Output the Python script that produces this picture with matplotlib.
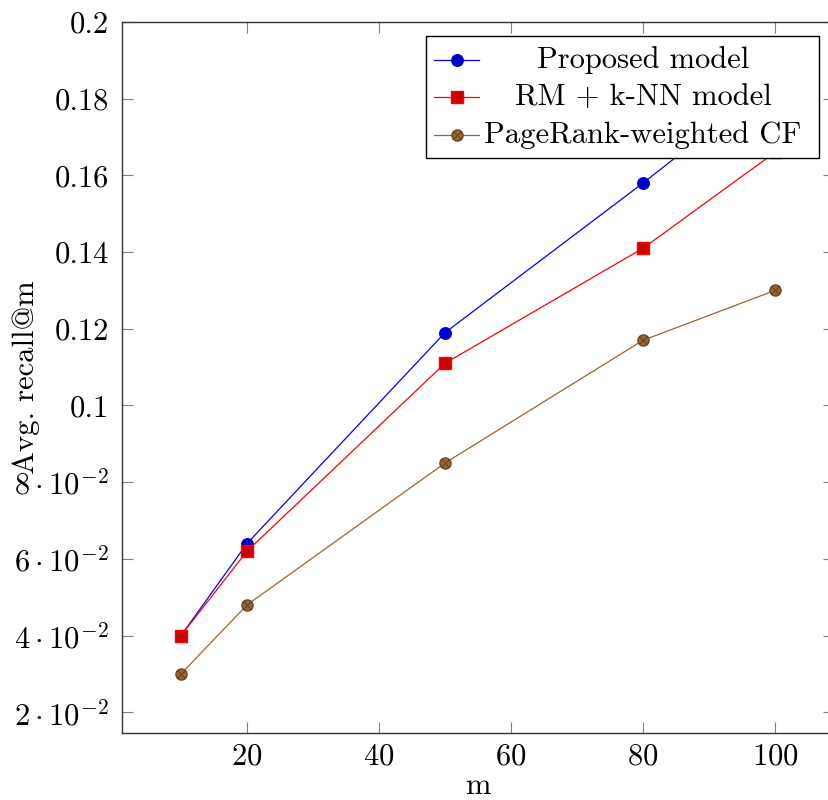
import numpy as np
import matplotlib.pyplot as plt
from matplotlib.patches import Rectangle
from matplotlib.lines import Line2D

plt.rcParams['font.family'] = 'serif'
plt.rcParams['font.serif'] = ['cmr10']
plt.rcParams['mathtext.fontset'] = 'cm'
plt.rcParams['axes.formatter.use_mathtext'] = True

m = [10, 20, 50, 80, 100]
proposed = [0.040, 0.064, 0.119, 0.158, 0.185]
rm_knn = [0.040, 0.062, 0.111, 0.141, 0.166]
pagerank = [0.030, 0.048, 0.085, 0.117, 0.130]

names = ["Proposed model", "RM + k-NN model", "PageRank-weighted CF"]
xticks = [20, 40, 60, 80, 100]
yticks = [0.02, 0.04, 0.06, 0.08, 0.1, 0.12, 0.14, 0.16, 0.18, 0.2]
ylabels = [r"$2\cdot10^{-2}$", r"$4\cdot10^{-2}$", r"$6\cdot10^{-2}$", r"$8\cdot10^{-2}$",
           "0.1", "0.12", "0.14", "0.16", "0.18", "0.2"]

FS = 22
W, H = 829, 800
fig = plt.figure(figsize=(W / 100, H / 100), dpi=100)
ax = fig.add_axes([121.6 / W, 1 - 733 / H, 712.8 / W, 711 / H])

brown = '#996633'
ax.plot(m, proposed, color='blue', lw=0.9, marker='o', ms=8.3, mfc='#0000cc', mec='#0000cc')
ax.plot(m, rm_knn, color='red', lw=0.9, marker='s', ms=8.2, mfc='#cc0000', mec='red')
ax.plot(m, pagerank, color=brown, lw=0.9, marker='o', ms=8, mfc=brown, mec='#6b4524')
ax.plot(m, pagerank, ls='none', marker='x', ms=5.5, mew=0.6, color='#5a3a1a')

ax.set_xlim(1, 109)
ax.set_ylim(0.0146, 0.2)
ax.set_xticks(xticks)
ax.set_yticks(yticks, ylabels)
ax.tick_params(direction='in', length=8, width=0.8, color='gray',
               top=True, right=True, labelsize=FS)
ax.tick_params(axis='y', pad=9)
ax.tick_params(axis='x', pad=7)
for s in ax.spines.values():
    s.set_linewidth(1.0)
    s.set_color('#333333')

ax.set_xlabel("m", fontsize=FS, va='center')
ax.xaxis.set_label_coords(0.5, (733 - 786) / 711)
ax.set_ylabel("Avg. recall@m", fontsize=FS, va='center')
ax.yaxis.set_label_coords((26 - 121.6) / 712.8, 0.5)


# legend drawn by hand so the text sits centred like pgfplots
def px(x, y):
    return x / W, 1 - y / H


x0, y0 = px(425.7, 158)
x1, y1 = px(819, 35.7)
ax.add_patch(Rectangle((x0, y0), x1 - x0, y1 - y0, transform=fig.transFigure,
                       facecolor='white', edgecolor='black', lw=1.0,
                       zorder=10, clip_on=False))
rows = [60, 97, 135]
handles = [
    dict(color='blue', marker='o', ms=8.3, mfc='#0000cc', mec='#0000cc'),
    dict(color='red', marker='s', ms=8.2, mfc='#cc0000', mec='red'),
    dict(color=brown, marker='o', ms=8, mfc=brown, mec='#6b4524'),
]
for yy, name, h in zip(rows, names, handles):
    xa, ya = px(434, yy)
    xb, _ = px(479, yy)
    ax.add_line(Line2D([xa, xb], [ya, ya], lw=0.9, transform=fig.transFigure,
                       zorder=11, clip_on=False, color=h['color']))
    xm, _ = px(456.5, yy)
    ax.add_line(Line2D([xm], [ya], ls='none', transform=fig.transFigure, zorder=12,
                       clip_on=False, marker=h['marker'], ms=h['ms'],
                       mfc=h['mfc'], mec=h['mec']))
    xt, _ = px(643, yy)
    fig.text(xt, ya, name, fontsize=FS, ha='center', va='center', zorder=13)
xm, ym = px(456.5, rows[2])
ax.add_line(Line2D([xm], [ym], ls='none', transform=fig.transFigure, zorder=13,
                   clip_on=False, marker='x', ms=5.5, mew=0.6, color='#5a3a1a'))

fig.savefig('out.png', dpi=100)
